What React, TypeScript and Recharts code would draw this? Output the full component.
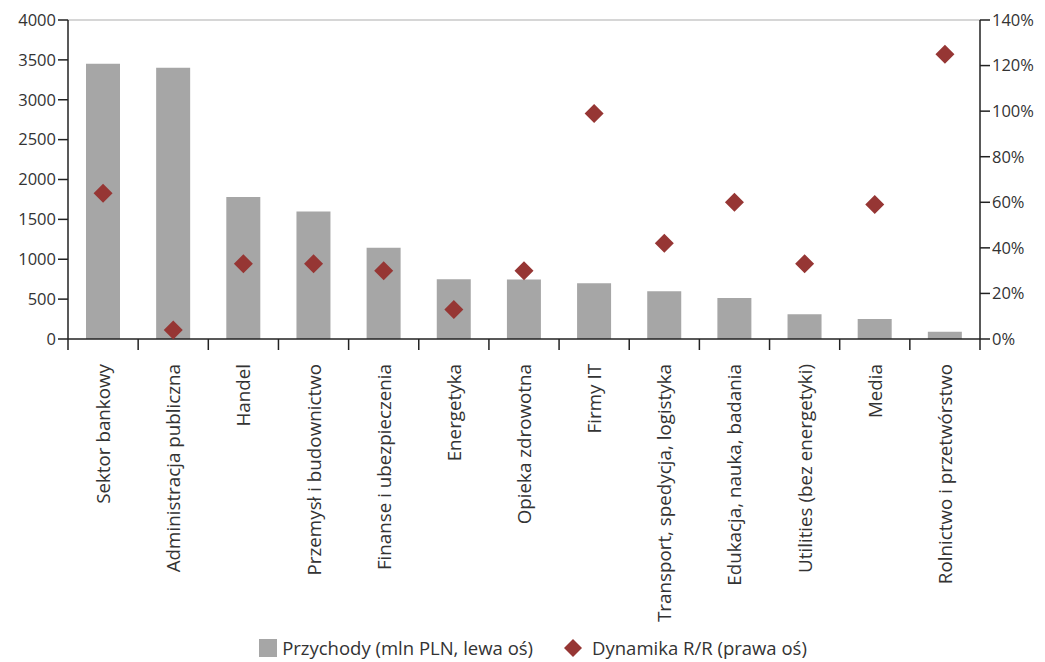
import React from "react";
import {
  ComposedChart,
  Bar,
  Scatter,
  XAxis,
  YAxis,
  Legend,
  ReferenceLine,
} from "recharts";

const categories = [
  "Sektor bankowy",
  "Administracja publiczna",
  "Handel",
  "Przemysł i budownictwo",
  "Finanse i ubezpieczenia",
  "Energetyka",
  "Opieka zdrowotna",
  "Firmy IT",
  "Transport, spedycja, logistyka",
  "Edukacja, nauka, badania",
  "Utilities (bez energetyki)",
  "Media",
  "Rolnictwo i przetwórstwo",
];

// mln PLN, left axis
const revenue = [3450, 3400, 1780, 1600, 1145, 750, 745, 700, 600, 515, 310, 250, 90];
// % y/y, right axis
const growth = [64, 4, 33, 33, 30, 13, 30, 99, 42, 60, 33, 59, 125];

const leftTicks = [0, 500, 1000, 1500, 2000, 2500, 3000, 3500, 4000];
const rightTicks = [0, 20, 40, 60, 80, 100, 120, 140];

const seriesNames = ["Przychody (mln PLN, lewa oś)", "Dynamika R/R (prawa oś)"];

const FONT = "'Open Sans', 'Noto Sans', sans-serif";
const TEXT = "#333";
const BAR = "#a6a6a6";
const DOT = "#963634";

const chartData = categories.map((name, i) => ({
  name,
  revenue: revenue[i],
  growth: growth[i],
}));

const CategoryTick = (props: any) => {
  const { x, y, payload, index } = props;
  const half = payload?.offset || 35.08;
  const last = index === categories.length - 1;
  return (
    <g>
      <line x1={x - half} y1={y - 8} x2={x - half} y2={y + 3} stroke="#222" strokeWidth={1.5} />
      {last && (
        <line x1={x + half} y1={y - 8} x2={x + half} y2={y + 3} stroke="#222" strokeWidth={1.5} />
      )}
      <text
        x={x}
        y={y + 17}
        transform={`rotate(-90, ${x}, ${y + 17})`}
        textAnchor="end"
        dominantBaseline="central"
        fill={TEXT}
        fontSize={18.8}
        fontFamily={FONT}
      >
        {payload.value}
      </text>
    </g>
  );
};

const DiamondShape = (props: any) => {
  const { cx, cy } = props;
  const r = 9.5;
  return (
    <polygon
      points={`${cx},${cy - r} ${cx + r},${cy} ${cx},${cy + r} ${cx - r},${cy}`}
      fill={DOT}
    />
  );
};

const LegendContent = () => (
  <div
    style={{
      display: "flex",
      justifyContent: "center",
      alignItems: "center",
      fontFamily: FONT,
      fontSize: 18.5,
      color: TEXT,
      gap: 30,
      paddingLeft: 18,
      marginTop: 5,
    }}
  >
    <span style={{ display: "flex", alignItems: "center" }}>
      <svg width={18} height={18} style={{ marginRight: 5 }}>
        <rect x={0} y={0} width={18} height={18} fill={BAR} />
      </svg>
      {seriesNames[0]}
    </span>
    <span style={{ display: "flex", alignItems: "center" }}>
      <svg width={20} height={20} style={{ marginRight: 9 }}>
        <polygon points="10,1 19,10 10,19 1,10" fill={DOT} />
      </svg>
      {seriesNames[1]}
    </span>
  </div>
);

export default function App() {
  return (
    <div style={{ position: "absolute", left: 0, top: 0, background: "#fff" }}>
      <ComposedChart
        width={1045}
        height={662}
        data={chartData}
        margin={{ top: 20, right: 5, left: 8, bottom: 2 }}
      >
        <XAxis
          dataKey="name"
          xAxisId="x"
          interval={0}
          tickLine={false}
          axisLine={{ stroke: "#222", strokeWidth: 1.5 }}
          tick={<CategoryTick />}
          height={291}
        />
        <YAxis
          yAxisId="left"
          orientation="left"
          domain={[0, 4000]}
          ticks={leftTicks}
          interval={0}
          width={60}
          tickSize={10}
          axisLine={{ stroke: "#222", strokeWidth: 1.5 }}
          tickLine={{ stroke: "#222", strokeWidth: 1.5 }}
          tick={{ fill: TEXT, fontSize: 16.5, fontFamily: FONT }}
        />
        <YAxis
          yAxisId="right"
          orientation="right"
          domain={[0, 140]}
          ticks={rightTicks}
          interval={0}
          width={60}
          tickSize={10}
          tickFormatter={(v: number) => `${v}%`}
          axisLine={{ stroke: "#222", strokeWidth: 1.5 }}
          tickLine={{ stroke: "#222", strokeWidth: 1.5 }}
          tick={{ fill: TEXT, fontSize: 16.5, fontFamily: FONT }}
        />
        <ReferenceLine yAxisId="left" xAxisId="x" y={4000} stroke="#c8c8c8" strokeWidth={1.5} />
        <Bar
          dataKey="revenue"
          name={seriesNames[0]}
          yAxisId="left"
          xAxisId="x"
          fill={BAR}
          barSize={34}
          isAnimationActive={false}
        />
        <Scatter
          dataKey="growth"
          name={seriesNames[1]}
          yAxisId="right"
          xAxisId="x"
          fill={DOT}
          shape={<DiamondShape />}
          isAnimationActive={false}
        />
        <Legend verticalAlign="bottom" height={30} content={<LegendContent />} />
      </ComposedChart>
    </div>
  );
}
